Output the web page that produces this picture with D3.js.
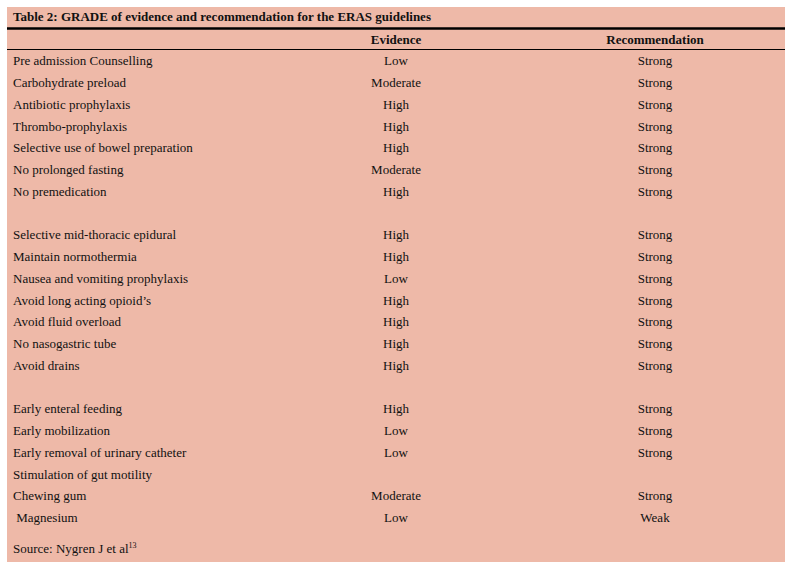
<!DOCTYPE html>
<html>
<head>
<meta charset="utf-8">
<script src="https://d3js.org/d3.v7.min.js"></script>
<style>
  body { margin: 0; background: #fff; }
  text { font-family: "Liberation Serif", serif; font-size: 13px; fill: #111; }
</style>
</head>
<body>
<svg width="790" height="570"></svg>
<script>
// rows ("" = blank spacer row)
const factors = ["Pre admission Counselling", "Carbohydrate preload", "Antibiotic prophylaxis",
  "Thrombo-prophylaxis", "Selective use of bowel preparation", "No prolonged fasting",
  "No premedication", "", "Selective mid-thoracic epidural", "Maintain normothermia",
  "Nausea and vomiting prophylaxis", "Avoid long acting opioid’s", "Avoid fluid overload",
  "No nasogastric tube", "Avoid drains", "", "Early enteral feeding", "Early mobilization",
  "Early removal of urinary catheter", "Stimulation of gut motility", "Chewing gum", " Magnesium"];
const evidence = ["Low", "Moderate", "High", "High", "High", "Moderate", "High", "",
  "High", "High", "Low", "High", "High", "High", "High", "",
  "High", "Low", "Low", "", "Moderate", "Low"];
const recommendation = ["Strong", "Strong", "Strong", "Strong", "Strong", "Strong", "Strong", "",
  "Strong", "Strong", "Strong", "Strong", "Strong", "Strong", "Strong", "",
  "Strong", "Strong", "Strong", "", "Strong", "Weak"];
const columns = ["Evidence", "Recommendation"];

const svg = d3.select("svg");
svg.append("rect").attr("x", 7).attr("y", 7).attr("width", 778).attr("height", 555).attr("fill", "#eeb9a8");

svg.append("text").attr("x", 13).attr("y", 21).attr("font-weight", "bold").text("Table 2: GRADE of evidence and recommendation for the ERAS guidelines");
svg.append("line").attr("x1", 7).attr("x2", 785).attr("y1", 28.5).attr("y2", 28.5).attr("stroke", "#000").attr("stroke-width", 2.5);
svg.append("line").attr("x1", 7).attr("x2", 785).attr("y1", 49.5).attr("y2", 49.5).attr("stroke", "#000").attr("stroke-width", 1);

const x = d3.scalePoint().domain(columns).range([396, 655]);
const y = d3.scaleBand().domain(d3.range(factors.length)).range([50, 50 + 21.75 * factors.length]);

svg.selectAll(".hdr").data(columns).join("text").attr("class", "hdr")
  .attr("x", d => x(d)).attr("y", 44).attr("text-anchor", "middle").attr("font-weight", "bold").text(d => d);

const rows = svg.selectAll(".row").data(factors.map((f, i) => ({ f, e: evidence[i], r: recommendation[i], i })))
  .join("g").attr("transform", d => `translate(0,${y(d.i) + y.bandwidth() / 2 + 4.5})`);
rows.append("text").attr("x", 13).attr("xml:space", "preserve").style("white-space", "pre").text(d => d.f);
rows.append("text").attr("x", x("Evidence")).attr("text-anchor", "middle").text(d => d.e);
rows.append("text").attr("x", x("Recommendation")).attr("text-anchor", "middle").text(d => d.r);

const src = svg.append("text").attr("x", 13).attr("y", 553).text("Source: Nygren J et al");
src.append("tspan").attr("dy", -5).attr("font-size", "8px").text("13");
</script>
</body>
</html>
